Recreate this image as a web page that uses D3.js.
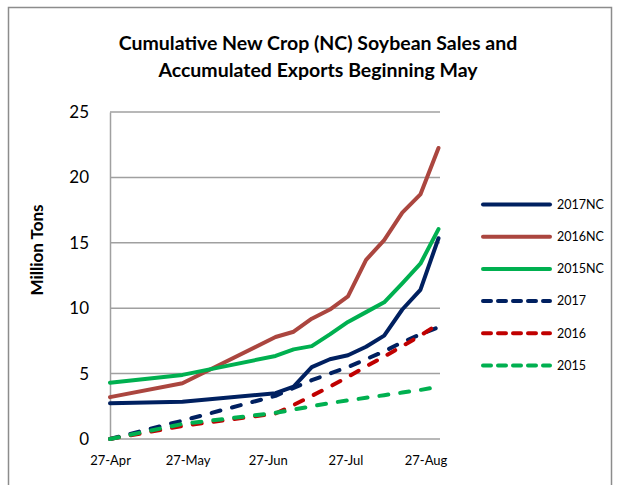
<!doctype html>
<html>
  <head>
    <script src="https://cdnjs.cloudflare.com/ajax/libs/d3/7.8.5/d3.min.js"></script>
    <style>
      body { margin: 0; background: #fff; }
      text { font-family: Lato, "Open Sans", sans-serif; fill: #000; }
    </style>
  </head>
  <body>
    <svg id="chart" width="620" height="485"></svg>
    <script>
        var dates = ["2017-04-27", "2017-05-25", "2017-06-30", "2017-07-07", "2017-07-14", "2017-07-21",
                     "2017-07-28", "2017-08-04", "2017-08-11", "2017-08-18", "2017-08-25", "2017-09-01"];

        var nc2017 = [2.73, 2.85, 3.5, 4.0, 5.5, 6.1, 6.4, 7.05, 7.9, 9.9, 11.4, 15.35];
        var nc2016 = [3.2, 4.26, 7.8, 8.2, 9.2, 9.9, 10.9, 13.7, 15.2, 17.3, 18.7, 22.25];
        var nc2015 = [4.3, 4.9, 6.35, 6.85, 7.1, 8.0, 8.95, 9.7, 10.45, 11.9, 13.4, 16.05];
        var ex2017 = [0, 1.4, 3.3, 3.9, 4.5, 5.0, 5.5, 6.1, 6.7, 7.4, 8.0, 8.55];
        var ex2016 = [0, 1.0, 1.95, 2.6, 3.3, 4.0, 4.75, 5.55, 6.3, 7.1, 7.9, 8.8];
        var ex2015 = [0, 1.15, 2.0, 2.25, 2.5, 2.75, 2.95, 3.15, 3.35, 3.55, 3.75, 4.0];

        var seriesNames = ["2017NC", "2016NC", "2015NC", "2017", "2016", "2015"];
        var seriesValues = [nc2017, nc2016, nc2015, ex2017, ex2016, ex2015];
        var seriesColors = ["#002060", "#ab463f", "#00b050", "#002060", "#c00000", "#00b050"];
        var seriesDashed = [false, false, false, true, true, true];

        var yTicks = [0, 5, 10, 15, 20, 25];
        var xTicks = ["2017-04-27", "2017-05-27", "2017-06-27", "2017-07-27", "2017-08-27"];

        var parse = d3.timeParse("%Y-%m-%d");
        var svg = d3.select("#chart");

        // outer chart border
        svg.append("rect")
            .attr("x", 8.5).attr("y", 7.5)
            .attr("width", 603).attr("height", 500)
            .style("fill", "none").style("stroke", "#8c8c8c").style("stroke-width", 1.5);

        var x = d3.scaleTime()
            .domain([parse(dates[0]), parse(dates[dates.length - 1])])
            .range([110, 438.5]);
        var y = d3.scaleLinear().domain([0, 25]).range([439, 112]);

        // gridlines
        svg.append("g").selectAll("line")
            .data(yTicks.slice(1))
            .enter().append("line")
                .attr("x1", 110).attr("x2", 440)
                .attr("y1", d => y(d)).attr("y2", d => y(d))
                .style("stroke", "#a0a0a0").style("stroke-width", 1.5);

        var yAxis = svg.append("g")
            .attr("transform", "translate(110,0)")
            .call(d3.axisLeft(y).tickValues(yTicks).tickSize(0).tickPadding(21));
        yAxis.select(".domain").style("stroke", "#a0a0a0").style("stroke-width", 1.5);
        yAxis.selectAll("text").style("font-size", "17px").style("font-family", "Lato");

        var xAxis = svg.append("g")
            .attr("transform", "translate(0,439)")
            .call(d3.axisBottom(x).tickValues(xTicks.map(parse)).tickSize(0).tickPadding(17)
                .tickFormat(d3.timeFormat("%d-%b")));
        xAxis.select(".domain").attr("d", "M110,0H440").style("stroke", "#a0a0a0").style("stroke-width", 1.5);
        xAxis.selectAll("text").style("font-size", "13px").style("font-family", "Lato");

        var line = d3.line()
            .x((d, i) => x(parse(dates[i])))
            .y(d => y(d));

        svg.append("g").selectAll("path")
            .data(seriesValues)
            .enter().append("path")
                .attr("d", line)
                .style("fill", "none")
                .style("stroke", (d, i) => seriesColors[i])
                .style("stroke-width", 4)
                .style("stroke-linejoin", "round")
                .style("stroke-linecap", "round")
                .style("stroke-dasharray", (d, i) => seriesDashed[i] ? "9,12" : null);

        // legend
        var legend = svg.append("g").selectAll("g")
            .data(seriesNames)
            .enter().append("g")
                .attr("transform", (d, i) => "translate(0," + (204.5 + i * 32.2) + ")");
        legend.append("line")
            .attr("x1", 483).attr("x2", 550)
            .style("stroke", (d, i) => seriesColors[i])
            .style("stroke-width", 4)
            .style("stroke-linecap", "round")
            .style("stroke-dasharray", (d, i) => seriesDashed[i] ? "8,7" : null);
        legend.append("text")
            .attr("x", 557).attr("dy", "0.35em")
            .style("font-size", "12.5px")
            .text(d => d);

        // titles
        svg.append("text")
            .attr("x", 318).attr("y", 50)
            .attr("text-anchor", "middle")
            .style("font-size", "19.5px").style("font-weight", "bold")
            .text("Cumulative New Crop (NC) Soybean Sales and");
        svg.append("text")
            .attr("x", 318).attr("y", 77)
            .attr("text-anchor", "middle")
            .style("font-size", "19.5px").style("font-weight", "bold")
            .text("Accumulated Exports Beginning May");

        svg.append("text")
            .attr("transform", "translate(43,250) rotate(-90)")
            .attr("text-anchor", "middle")
            .style("font-size", "17px").style("font-weight", "bold")
            .text("Million Tons");
    </script>
  </body>
</html>
